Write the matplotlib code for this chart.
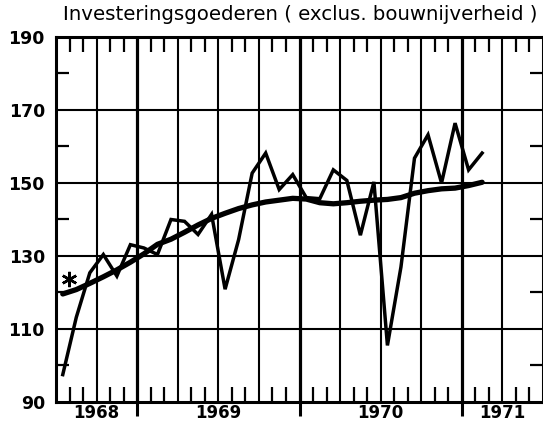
import numpy as np
import matplotlib.pyplot as plt
from matplotlib.transforms import blended_transform_factory

# Data: monthly index, July 1968 .. February 1971
title = "Investeringsgoederen ( exclus. bouwnijverheid )"
first_month = 1968.5
monthly = [97.5, 113.2, 125.4, 130.4, 124.5, 133.1, 132.2, 130.4,
           140.0, 139.5, 135.9, 141.4, 120.9, 134.5, 152.7, 158.2,
           148.2, 152.3, 146.0, 145.7, 153.6, 150.7, 135.7, 150.3,
           105.5, 127.0, 156.8, 163.2, 150.0, 166.4, 153.6, 158.2]
trend = [119.6, 120.8, 122.5, 124.3, 126.2, 128.3, 130.6, 133.2,
         134.6, 136.5, 138.5, 140.3, 141.7, 143.0, 144.0, 144.8,
         145.3, 145.8, 145.6, 144.6, 144.3, 144.6, 145.0, 145.3,
         145.5, 146.0, 147.2, 147.9, 148.4, 148.6, 149.3, 150.2]
star_x, star_y = 1968.58, 123.6
years = ['1968', '1969', '1970', '1971']
year_label_pos = [1968.75, 1969.5, 1970.5, 1971.25]
y_labels = [90, 110, 130, 150, 170, 190]

x = first_month + (np.arange(len(monthly)) + 0.5) / 12.0

fig = plt.figure(figsize=(5.43, 4.23), dpi=100)
ax = fig.add_axes([56 / 543, 21 / 423, 487 / 543, 365 / 423])
ax.set_xlim(1968.5, 1971.5)
ax.set_ylim(90, 190)

# grid: quarters vertical, every 20 horizontal
quarters = np.arange(1968.75, 1971.5, 0.25)
for q in quarters:
    lw = 2.3 if abs(q - round(q)) < 1e-6 else 1.5
    ax.axvline(q, color='black', lw=lw, zorder=1)
for yv in [110, 130, 150, 170]:
    ax.axhline(yv, color='black', lw=1.5, zorder=1)

ax.plot(x, trend, color='black', lw=3.8, solid_capstyle='round', zorder=3)
ax.plot(x, monthly, color='black', lw=2.5, solid_joinstyle='miter', zorder=4)
ax.plot([star_x], [star_y], marker=(6, 2, 0), color='black', markersize=11,
        markeredgewidth=1.8, zorder=5)

for s in ax.spines.values():
    s.set_linewidth(2.2)

# y ticks: labels every 20, small inward marks in between
ax.set_yticks(y_labels)
ax.set_yticklabels([str(v) for v in y_labels], fontsize=12.5, fontweight='bold')
ax.set_yticks(np.arange(100, 190, 20), minor=True)
ax.tick_params(axis='y', which='major', length=0, pad=8)
ax.tick_params(axis='y', which='minor', direction='in', length=9.5, width=1.6,
               left=True, right=True)

# x ticks: monthly inward marks top and bottom, year marks outward below
months = np.arange(1968.5, 1971.5 + 1e-9, 1 / 12.0)
minor_x = [m for m in months if abs(m * 4 - round(m * 4)) > 1e-6]
ax.set_xticks([1969, 1970, 1971])
ax.set_xticklabels([])
ax.set_xticks(minor_x, minor=True)
ax.tick_params(axis='x', which='major', direction='out', length=10, width=2.2,
               bottom=True, top=False)
ax.tick_params(axis='x', which='minor', direction='in', length=11, width=1.6,
               bottom=True, top=True)

trans = blended_transform_factory(ax.transData, fig.transFigure)
for lab, pos in zip(years, year_label_pos):
    ax.text(pos, 10 / 423, lab, transform=trans, ha='center', va='center',
            fontsize=12, fontweight='bold')

fig.text(300 / 543, 1 - 15 / 423, title, ha='center', va='center', fontsize=14.2)

fig.savefig('out.png', dpi=100)
